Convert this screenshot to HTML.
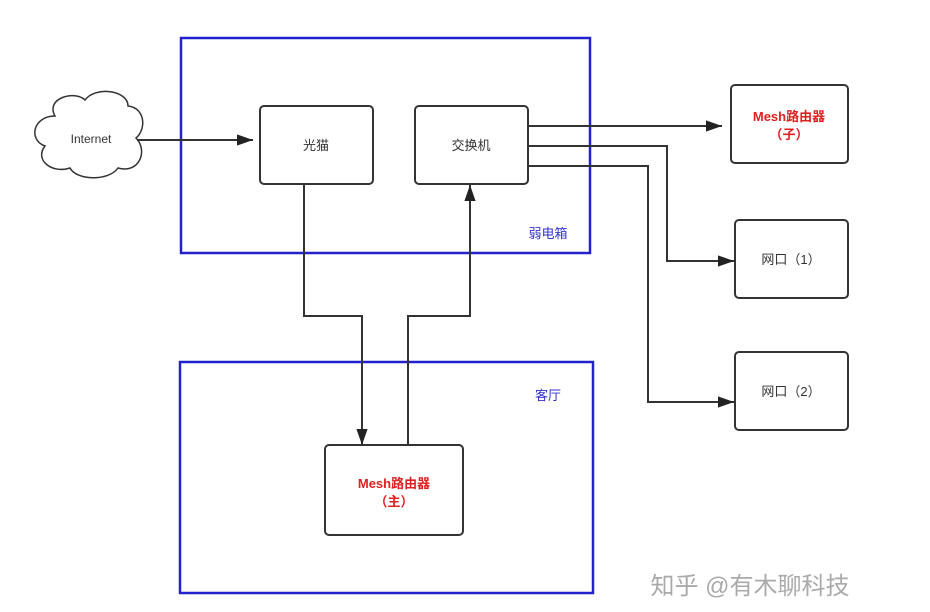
<!DOCTYPE html>
<html><head><meta charset="utf-8"><style>
html,body{margin:0;padding:0;background:#fff;}
svg{display:block;}
text{font-family:"Liberation Sans","Noto Sans CJK SC",sans-serif;}
</style></head><body>
<svg width="930" height="612" viewBox="0 0 930 612" xmlns="http://www.w3.org/2000/svg">
<defs>
<marker id="b" viewBox="0 0 10 10" refX="10" refY="5" markerWidth="16" markerHeight="16" markerUnits="userSpaceOnUse" orient="auto">
<path d="M0,1.5 L10,5 L0,8.5 Z" fill="#222"/></marker>
</defs>
<rect x="181" y="38" width="409" height="215" fill="none" stroke="#2222cc" stroke-width="2.5"/>
<rect x="180" y="362" width="413" height="231" fill="none" stroke="#2222cc" stroke-width="2.5"/>
<text x="548" y="238" font-size="13" fill="#3333cc" text-anchor="middle">弱电箱</text>
<text x="548" y="400" font-size="13" fill="#3333cc" text-anchor="middle">客厅</text>
<path d="M55,116 C45,98 75,90 85,100 C95,86 128,90 128,106 C146,108 146,130 136,138 C148,150 140,174 118,168 C108,182 76,180 70,168 C52,174 34,160 45,146 C28,140 33,116 55,116 Z" fill="#fff" stroke="#333" stroke-width="1.5"/>
<text x="91" y="143" font-size="12" fill="#333" text-anchor="middle">Internet</text>
<g fill="none" stroke="#333" stroke-width="2">
<line x1="137" y1="140" x2="253" y2="140" marker-end="url(#b)"/>
<line x1="528" y1="126" x2="722" y2="126" marker-end="url(#b)"/>
<polyline points="528,146 667,146 667,261 734,261" marker-end="url(#b)"/>
<polyline points="528,166 648,166 648,402 734,402" marker-end="url(#b)"/>
<polyline points="304,184 304,316 362,316 362,445" marker-end="url(#b)"/>
<polyline points="408,445 408,316 470,316 470,185" marker-end="url(#b)"/>
</g>
<g fill="#fff" stroke="#333" stroke-width="2">
<rect x="260" y="106" width="113" height="78" rx="4"/>
<rect x="415" y="106" width="113" height="78" rx="4"/>
<rect x="731" y="85" width="117" height="78" rx="4"/>
<rect x="735" y="220" width="113" height="78" rx="4"/>
<rect x="735" y="352" width="113" height="78" rx="4"/>
<rect x="325" y="445" width="138" height="90" rx="4"/>
</g>
<text x="316" y="150" font-size="13" fill="#333" text-anchor="middle">光猫</text>
<text x="471" y="150" font-size="13" fill="#333" text-anchor="middle">交换机</text>
<text x="789" y="121" font-size="13" fill="#e02020" font-weight="bold" text-anchor="middle">Mesh路由器</text>
<text x="789" y="139" font-size="13" fill="#e02020" font-weight="bold" text-anchor="middle">（子）</text>
<text x="791" y="264" font-size="13" fill="#333" text-anchor="middle">网口（1）</text>
<text x="791" y="396" font-size="13" fill="#333" text-anchor="middle">网口（2）</text>
<text x="394" y="488" font-size="13" fill="#e02020" font-weight="bold" text-anchor="middle">Mesh路由器</text>
<text x="394" y="506" font-size="13" fill="#e02020" font-weight="bold" text-anchor="middle">（主）</text>
<text x="750" y="594" font-size="24" fill="#aaa" text-anchor="middle">知乎 @有木聊科技</text>
</svg>
</body></html>
